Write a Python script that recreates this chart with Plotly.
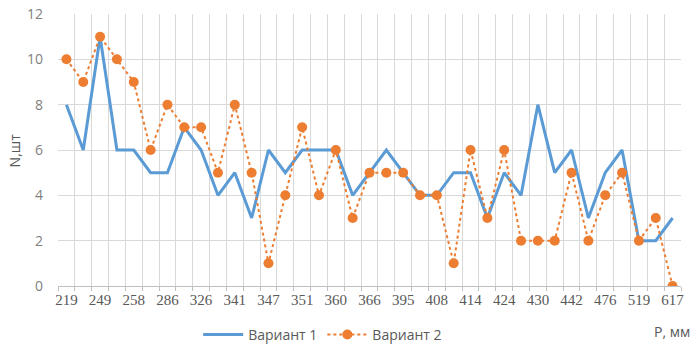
import plotly.graph_objects as go

tick_labels = ["219", "249", "258", "286", "326", "341", "347", "351", "360", "366",
               "395", "408", "414", "424", "430", "442", "476", "519", "617"]
variant1 = [8, 6, 11, 6, 6, 5, 5, 7, 6, 4, 5, 3, 6, 5, 6, 6, 6, 4, 5, 6, 5, 4, 4, 5, 5,
            3, 5, 4, 8, 5, 6, 3, 5, 6, 2, 2, 3]
variant2 = [10, 9, 11, 10, 9, 6, 8, 7, 7, 5, 8, 5, 1, 4, 7, 4, 6, 3, 5, 5, 5, 4, 4, 1, 6,
            3, 6, 2, 2, 2, 5, 2, 4, 5, 2, 3, 0]

idx = list(range(len(variant1)))
tickvals = idx[::2]

fig = go.Figure()
fig.add_trace(go.Scatter(x=idx, y=variant1, mode="lines", name="Вариант 1",
                         line=dict(color="#5B9BD5", width=3)))
fig.add_trace(go.Scatter(x=idx, y=variant2, mode="lines+markers", name="Вариант 2",
                         line=dict(color="#ED7D31", width=2, dash="dot"),
                         marker=dict(color="#ED7D31", size=10)))

fig.update_layout(
    width=697, height=346,
    margin=dict(l=58, r=16, t=14, b=60, autoexpand=False),
    paper_bgcolor="white", plot_bgcolor="white",
    font=dict(family="Open Sans", size=13, color="#595959"),
    showlegend=True,
    legend=dict(orientation="h", x=0.225, xanchor="left", y=-0.18, yanchor="middle",
                font=dict(size=14, color="#595959"), itemwidth=40, tracegroupgap=0),
    xaxis=dict(range=[-0.5, 36.5], tickvals=tickvals, ticktext=tick_labels,
               showgrid=False, zeroline=False, showline=True, linecolor="#BFBFBF",
               ticks="", ticklabeloverflow="allow",
               tickfont=dict(family="Liberation Serif", size=15, color="#595959"),
               minor=dict(tick0=-0.5, dtick=1, showgrid=True, gridcolor="#D9D9D9",
                          ticks="outside", ticklen=4, tickcolor="#BFBFBF")),
    yaxis=dict(range=[0, 12], dtick=2, showgrid=True, gridcolor="#D9D9D9",
               zeroline=False, showline=False, ticks="", ticklabelstandoff=14,
               ticklabeloverflow="allow",
               tickfont=dict(size=14, color="#7F7F7F")),
    annotations=[
        dict(text="P, мм", xref="paper", yref="paper", x=1.018, y=-0.169,
             xanchor="right", yanchor="middle", showarrow=False,
             font=dict(size=14, color="#595959")),
        dict(text="N,шт", xref="paper", yref="paper", x=-0.07, y=0.5,
             xanchor="center", yanchor="middle", textangle=-90, showarrow=False,
             font=dict(size=14, color="#595959")),
    ],
)

fig.write_html("out.html", config={"displayModeBar": False},
               post_script="document.body.style.margin='0';document.body.style.overflow='hidden';")
